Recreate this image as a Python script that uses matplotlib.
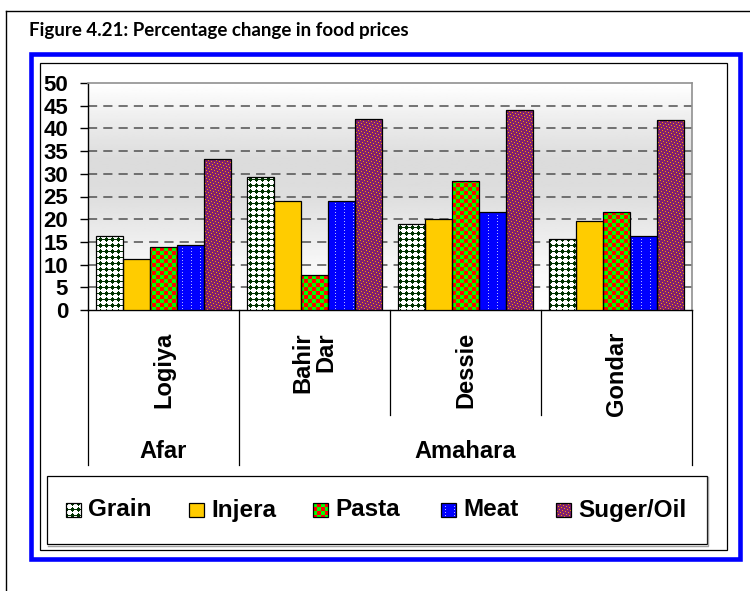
import numpy as np
import matplotlib
matplotlib.use("Agg")
import matplotlib.pyplot as plt
from matplotlib.patches import Rectangle
from matplotlib.path import Path
from matplotlib import transforms
from matplotlib.colors import to_rgb

# ---------------------------
# data
# ---------------------------
cities = ["Logiya", "Bahir\nDar", "Dessie", "Gondar"]
regions = ["Afar", "Amahara"]
region_span = [1, 3]  # how many cities fall under each region
series = ["Grain", "Injera", "Pasta", "Meat", "Suger/Oil"]
grain = [16.2, 29.4, 18.9, 15.6]
injera = [11.2, 24.1, 20.1, 19.5]
pasta = [13.8, 7.8, 28.5, 21.5]
meat = [14.3, 24.1, 21.5, 16.2]
suger = [33.2, 42.1, 44.1, 41.8]
yticks = list(range(0, 55, 5))
title = "Figure 4.21: Percentage change in food prices"

W, H = 750, 591
plt.rcParams["font.family"] = ["Liberation Sans", "DejaVu Sans"]
plt.rcParams["font.weight"] = "bold"


# ---------------------------
# fill textures (excel style patterns)
# ---------------------------
def tile_grain():
    t = np.ones((6, 6, 3))
    for yy in range(6):
        for xx in range(6):
            d = min(xx, 6 - xx) + min(yy, 6 - yy)
            if d <= 2 or (yy == 0):
                t[yy, xx] = to_rgb("#003300")
    return t


def tile_checker(c1, c2, n):
    t = np.zeros((2 * n, 2 * n, 3))
    for yy in range(2 * n):
        for xx in range(2 * n):
            t[yy, xx] = to_rgb(c1) if (xx // n + yy // n) % 2 == 0 else to_rgb(c2)
    return t


def tile_meat():
    t = np.tile(np.array(to_rgb("#0000ff")), (3, 9, 1))
    t[0, 4] = to_rgb("#b4b4ff")
    return t


def tile_suger():
    mask = np.array([[0, 1, 0, 0, 0, 0, 0, 0],
                     [0, 0, 0, 0, 1, 0, 0, 0],
                     [0, 0, 0, 0, 0, 0, 0, 1],
                     [0, 0, 1, 0, 0, 0, 0, 0],
                     [0, 0, 0, 0, 0, 1, 0, 0],
                     [1, 0, 0, 0, 0, 0, 0, 0],
                     [0, 0, 0, 1, 0, 0, 0, 0],
                     [0, 0, 0, 0, 0, 0, 1, 0]])
    t = np.zeros((8, 8, 3))
    t[mask == 0] = to_rgb("#802070")
    t[mask == 1] = to_rgb("#ff9900")
    return t


def tile_solid(c):
    return np.array(to_rgb(c)).reshape(1, 1, 3)


def texture(tile, h, w):
    reps = (h // tile.shape[0] + 1, w // tile.shape[1] + 1, 1)
    return np.tile(tile, reps)[:h, :w]


values = [grain, injera, pasta, meat, suger]
tiles = [tile_grain(), tile_solid("#ffcc00"), tile_checker("#00ff00", "#ff0000", 4),
         tile_meat(), tile_suger()]


def px(x0, y0, x1, y1):
    # pixel box -> figure fraction rect
    return [x0 / W, 1 - y1 / H, (x1 - x0) / W, (y1 - y0) / H]


fig = plt.figure(figsize=(W / 100, H / 100), dpi=100)
fig.patch.set_facecolor("white")

# overlay in pixel coords for frames, title and legend
ov = fig.add_axes([0, 0, 1, 1])
ov.set_xlim(0, W)
ov.set_ylim(H, 0)
ov.axis("off")

ov.plot([6, 6], [11, H], color="black", lw=1, clip_on=False)
ov.plot([6, W], [11, 11], color="black", lw=1, clip_on=False)
ov.text(29, 36, title, family="Lato", fontsize=13.5, fontweight="bold", ha="left", va="baseline")

ov.add_patch(Rectangle((31, 54), 739.5 - 31, 559 - 54, fill=False, edgecolor="#0000ff", lw=3.3))
ov.add_patch(Rectangle((40, 62.5), 727 - 40, 550 - 62.5, fill=False, edgecolor="black", lw=0.9))

# ---------------------------
# main plot
# ---------------------------
x0p, y0p, x1p, y1p = 88, 83, 692, 310
ax = fig.add_axes(px(x0p, y0p, x1p, y1p))
pw, ph = x1p - x0p, y1p - y0p
ymax = 50
ncat = len(cities)

# grey gradient background
grad_v = [0, 10, 25, 33, 42, 50]
grad_g = [1.0, 0.97, 0.87, 0.86, 0.93, 1.0]
gy = np.linspace(ymax, 0, 200)
ax.imshow(np.interp(gy, grad_v, grad_g)[:, None], extent=(0, ncat, 0, ymax), cmap="gray",
          vmin=0, vmax=1, aspect="auto", zorder=0, interpolation="bilinear")

for t in yticks[1:-1]:
    ax.axhline(t, color="#505050", lw=1.1, linestyle=(0, (6, 4)), zorder=1)

xc = np.arange(ncat) + 0.5
bw = 0.18
for i, (vals, tile) in enumerate(zip(values, tiles)):
    pos = xc + (i - 2) * bw
    bars = ax.bar(pos, vals, bw, facecolor="none", edgecolor="black", linewidth=0.9, zorder=4)
    clip = Path.make_compound_path(*[b.get_path().transformed(b.get_patch_transform()) for b in bars])
    img = ax.imshow(texture(tile, ph, pw), extent=(0, ncat, 0, ymax), origin="upper",
                    interpolation="nearest", aspect="auto", zorder=3)
    img.set_clip_path(clip, transform=ax.transData)

ax.set_xlim(0, ncat)
ax.set_ylim(0, ymax)
ax.set_xticks([])
ax.set_yticks(yticks)
ax.tick_params(axis="y", length=5.8, width=1, direction="out", pad=8.5, labelsize=16)
for s in ["top", "right"]:
    ax.spines[s].set_color("#909090")
    ax.spines[s].set_linewidth(1.2)
for s in ["left", "bottom"]:
    ax.spines[s].set_color("black")
    ax.spines[s].set_linewidth(1)

# category axis: cities + regions
bt = transforms.blended_transform_factory(ax.transData, ov.transData)
edges = np.cumsum([0] + region_span)
for k in range(ncat + 1):
    bottom = 465 if k in edges else 415
    ax.plot([k, k], [y1p, bottom], color="black", lw=0.9, transform=bt, clip_on=False)
for k, name in enumerate(cities):
    ax.text(k + 0.5, 332, name, rotation=90, ha="center", va="top", fontsize=17,
            multialignment="right", linespacing=1.0, transform=bt)
for r, name in enumerate(regions):
    ax.text((edges[r] + edges[r + 1]) / 2, 458, name, ha="center", va="baseline",
            fontsize=17, transform=bt)

# ---------------------------
# legend (drawn by hand so the swatches keep their textures)
# ---------------------------
ov.add_patch(Rectangle((47, 476), 707 - 47, 544 - 476, fill=False, edgecolor="black", lw=0.9))
ov.plot([48, 708, 708], [545.5, 545.5, 477], color="#a0a0a0", lw=1)
sw_x = [66, 189, 313, 441, 556]
for sx, name, tile in zip(sw_x, series, tiles):
    ov.imshow(texture(tile, 14, 15), extent=(sx, sx + 15, 517, 503), interpolation="nearest",
              aspect="auto", zorder=3)
    ov.add_patch(Rectangle((sx, 503), 15, 14, fill=False, edgecolor="black", lw=0.9, zorder=4))
    ov.text(sx + 22, 510, name, ha="left", va="center", fontsize=17.5)
ov.set_xlim(0, W)
ov.set_ylim(H, 0)

fig.savefig("out.png", dpi=100)
